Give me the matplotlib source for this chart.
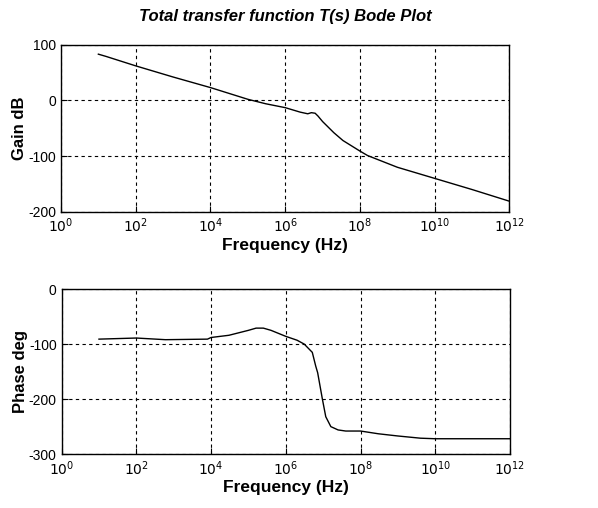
import numpy as np
import matplotlib
matplotlib.use("Agg")
import matplotlib.pyplot as plt
from matplotlib.ticker import FixedLocator, FuncFormatter

plt.rcParams['font.family'] = ['Liberation Sans', 'DejaVu Sans']
plt.rcParams['axes.unicode_minus'] = False

# gain curve (Hz, dB)
gain_freq = [1e1, 1.6e1, 1e2, 1e3, 1e4, 1e5, 3e5, 1e6, 2.5e6, 4e6, 5e6, 6.3e6,
             7.5e6, 1e7, 2e7, 3.5e7, 1e8, 1.6e8, 1e9, 1e10, 1e11, 1e12]
gain_db = [83, 79, 62, 42, 23, 2, -6, -13, -21, -24, -22, -23,
           -28, -38, -58, -72, -91, -99, -120, -140, -160, -181]

# phase curve (Hz, deg)
phase_freq = [1e1, 1e2, 6e2, 8e3, 1e4, 3e4, 1e5, 1.6e5, 2.5e5, 4e5, 1e6, 2e6,
              3.1e6, 5.1e6, 6.3e6, 7.1e6, 9.5e6, 1.17e7, 1.6e7, 2.5e7, 4e7,
              1e8, 3e8, 1e9, 4e9, 1e10, 1e11, 1e12]
phase_deg = [-91, -89, -92, -91, -88, -84, -75, -71, -71, -75, -86, -93,
             -100, -115, -140, -152, -200, -232, -250, -256, -258,
             -258, -263, -267, -271, -272, -272, -272]

xticks = [1e0, 1e2, 1e4, 1e6, 1e8, 1e10, 1e12]

fig = plt.figure(figsize=(5.98, 5.08), dpi=100)
ax1 = fig.add_axes([0.102, 0.583, 0.750, 0.329])
ax2 = fig.add_axes([0.103, 0.106, 0.750, 0.325])


def style(ax, yticks):
    ax.set_xscale('log')
    ax.set_xlim(1e0, 1e12)
    ax.xaxis.set_major_locator(FixedLocator(xticks))
    ax.xaxis.set_minor_locator(FixedLocator([]))
    ax.xaxis.set_major_formatter(FuncFormatter(
        lambda v, p: r'$10^{%d}$' % round(np.log10(v))))
    ax.yaxis.set_major_locator(FixedLocator(yticks))
    ax.yaxis.set_major_formatter(FuncFormatter(lambda v, p: '%d' % v))
    ax.grid(True, color='black', linestyle=(0, (3, 3)), linewidth=0.8)
    ax.tick_params(direction='in', length=4, labelsize=10, color='black')
    for s in ax.spines.values():
        s.set_linewidth(1.0)
        s.set_color('black')
    ax.set_xlabel('Frequency (Hz)', fontsize=12.5, fontweight='bold', labelpad=2)
    ax.yaxis.set_label_coords(-0.075, 0.5)


ax1.plot(gain_freq, gain_db, color='black', linewidth=1.0)
ax1.set_ylim(-200, 100)
style(ax1, [-200, -100, 0, 100])
ax1.set_ylabel('Gain dB', fontsize=12, fontweight='bold')
ax1.set_title('Total transfer function T(s) Bode Plot', fontsize=12,
              fontweight='bold', style='italic', pad=17)

ax2.plot(phase_freq, phase_deg, color='black', linewidth=1.0)
ax2.set_ylim(-300, 0)
style(ax2, [-300, -200, -100, 0])
ax2.set_ylabel('Phase deg', fontsize=12, fontweight='bold')

fig.savefig('out.png', dpi=100)
